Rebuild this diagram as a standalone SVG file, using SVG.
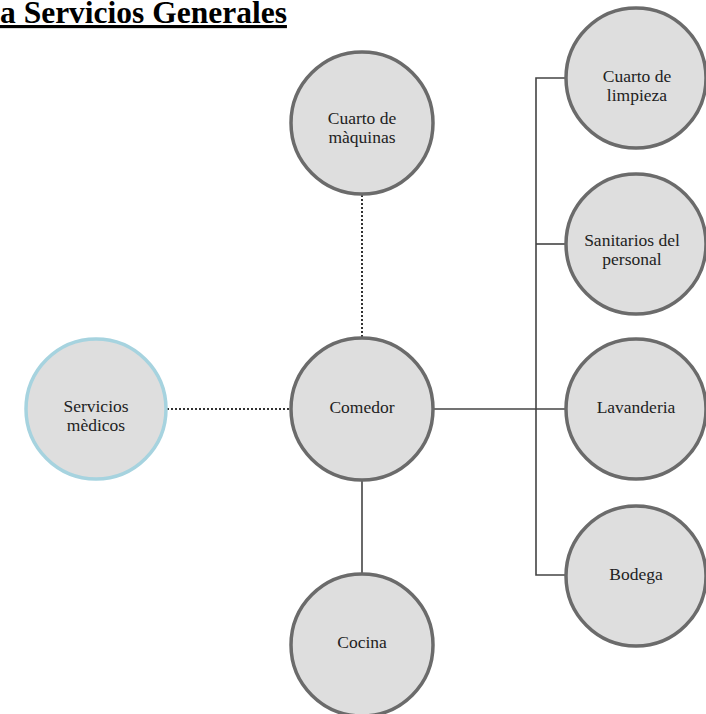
<svg xmlns="http://www.w3.org/2000/svg" width="706" height="714" viewBox="0 0 706 714">
<style>
.node{fill:#dedede;stroke:#6b6b6b;stroke-width:3.5}
.blue{stroke:#a6d3df}
.lbl{font-family:"Liberation Serif","Times New Roman",serif;font-size:17.5px;fill:#222;text-anchor:middle}
.title{font-family:"Liberation Serif","Times New Roman",serif;font-size:31.5px;font-weight:bold;fill:#000;text-decoration:underline}
.solid{stroke:#444;stroke-width:1.6;fill:none}
.dot{stroke:#333;stroke-width:2;stroke-dasharray:2 2;fill:none}
</style>
<rect width="706" height="714" fill="#fff"/>
<text class="title" x="0" y="23">a Servicios Generales</text>
<g id="connectors">
<line class="dot" x1="362" y1="195" x2="362" y2="337"/>
<line class="dot" x1="167" y1="409" x2="291" y2="409"/>
<line class="solid" x1="362" y1="480" x2="362" y2="574"/>
<line class="solid" x1="434" y1="409" x2="565" y2="409"/>
<polyline class="solid" points="565,78 536,78 536,575 565,575"/>
<line class="solid" x1="536" y1="244" x2="565" y2="244"/>
</g>
<g id="cuarto-maquinas">
<circle class="node" cx="362" cy="123" r="71"/>
<text class="lbl" x="362" y="124">Cuarto de</text>
<text class="lbl" x="362" y="143">màquinas</text>
</g>
<g id="servicios-medicos">
<circle class="node blue" cx="96" cy="409" r="70"/>
<text class="lbl" x="96" y="412">Servicios</text>
<text class="lbl" x="96" y="431">mèdicos</text>
</g>
<g id="comedor">
<circle class="node" cx="362" cy="409" r="71"/>
<text class="lbl" x="362" y="413">Comedor</text>
</g>
<g id="cocina">
<circle class="node" cx="362" cy="645" r="71"/>
<text class="lbl" x="362" y="648">Cocina</text>
</g>
<g id="cuarto-limpieza">
<circle class="node" cx="636" cy="78" r="70"/>
<text class="lbl" x="637" y="82">Cuarto de</text>
<text class="lbl" x="637" y="101">limpieza</text>
</g>
<g id="sanitarios">
<circle class="node" cx="636" cy="244" r="70"/>
<text class="lbl" x="632" y="246">Sanitarios del</text>
<text class="lbl" x="632" y="265">personal</text>
</g>
<g id="lavanderia">
<circle class="node" cx="636" cy="409" r="70"/>
<text class="lbl" x="636" y="413">Lavanderia</text>
</g>
<g id="bodega">
<circle class="node" cx="636" cy="576" r="70"/>
<text class="lbl" x="636" y="580">Bodega</text>
</g>
</svg>
